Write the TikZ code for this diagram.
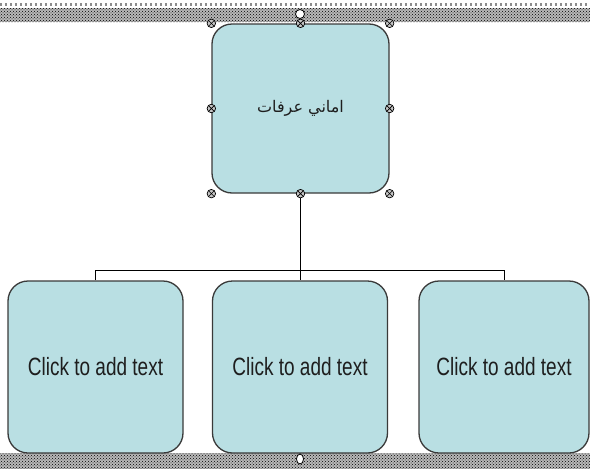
\documentclass[tikz,border=0pt]{standalone}
\usepackage{fontspec}
\setmainfont{Liberation Sans}
\newfontfamily\narrowfont[FakeStretch=0.76]{Liberation Sans}
\newfontfamily\arabicfont[Script=Arabic]{DejaVu Sans}
\TeXXeTstate=1
\usetikzlibrary{patterns,shapes.geometric}
\definecolor{ocfill}{HTML}{B9DFE3}
\definecolor{ocline}{HTML}{3A3A3A}
\definecolor{octext}{HTML}{1E1E1E}

\begin{document}
\begin{tikzpicture}[x=1pt, y=-1pt,
  orgbox/.style={draw=ocline, line width=1.3pt, fill=ocfill, rounded corners=20pt, inner sep=0pt, text=octext},
  conn/.style={draw=black, line width=1pt},
  band/.style={fill=black!28, postaction={pattern=crosshatch dots, pattern color=black}},
  handle/.style={circle, draw=black, fill=gray!45, line width=0.7pt, minimum size=8.5pt, inner sep=0pt,
    path picture={\draw[black, line width=0.6pt] (path picture bounding box.north west) -- (path picture bounding box.south east)
      (path picture bounding box.north east) -- (path picture bounding box.south west);}},
  knob/.style={circle, draw=black, fill=white, line width=0.8pt, inner sep=0pt}]
  \useasboundingbox (0,0) rectangle (590,469);
  % hatched bands of the slide area
  \path[band] (0,8) rectangle (590,22);
  \path[band] (0,453) rectangle (590,469);
  \draw[black!45, line width=2.2pt, dash pattern=on 2.2pt off 2.8pt] (0,4.5) -- (590,4.5);

  % boxes
  \node[orgbox, minimum width=177pt, minimum height=169pt] (boss) at (300.5,108.5) {\arabicfont\fontsize{16}{18}\selectfont\raisebox{-2pt}{\beginR اماني عرفات\endR}};
  \node[orgbox, minimum width=175pt, minimum height=172pt] (kida) at (95.5,367) {\narrowfont\fontsize{25}{28}\selectfont Click to add text};
  \node[orgbox, minimum width=175pt, minimum height=172pt] (kidb) at (300,367) {\narrowfont\fontsize{25}{28}\selectfont Click to add text};
  \node[orgbox, minimum width=170pt, minimum height=172pt] (kidc) at (504,367) {\narrowfont\fontsize{25}{28}\selectfont Click to add text};

  % connectors
  \coordinate (bar) at (300,270);
  \draw[conn] (boss.south) -- (boss.south |- kidb.north);
  \draw[conn] (kida.north) -- (kida.north |- bar) -- (kidc.north |- bar) -- (kidc.north);

  % selection handles
  \node[knob, minimum size=9pt] (rot) at (300,14) {};
  \foreach \a in {north west, north, north east, west, east, south west, south, south east}
    \node[handle] at (boss.\a) {};
  \node[knob, ellipse, minimum width=7pt, minimum height=10pt] (low) at (300,459) {};
\end{tikzpicture}
\end{document}
